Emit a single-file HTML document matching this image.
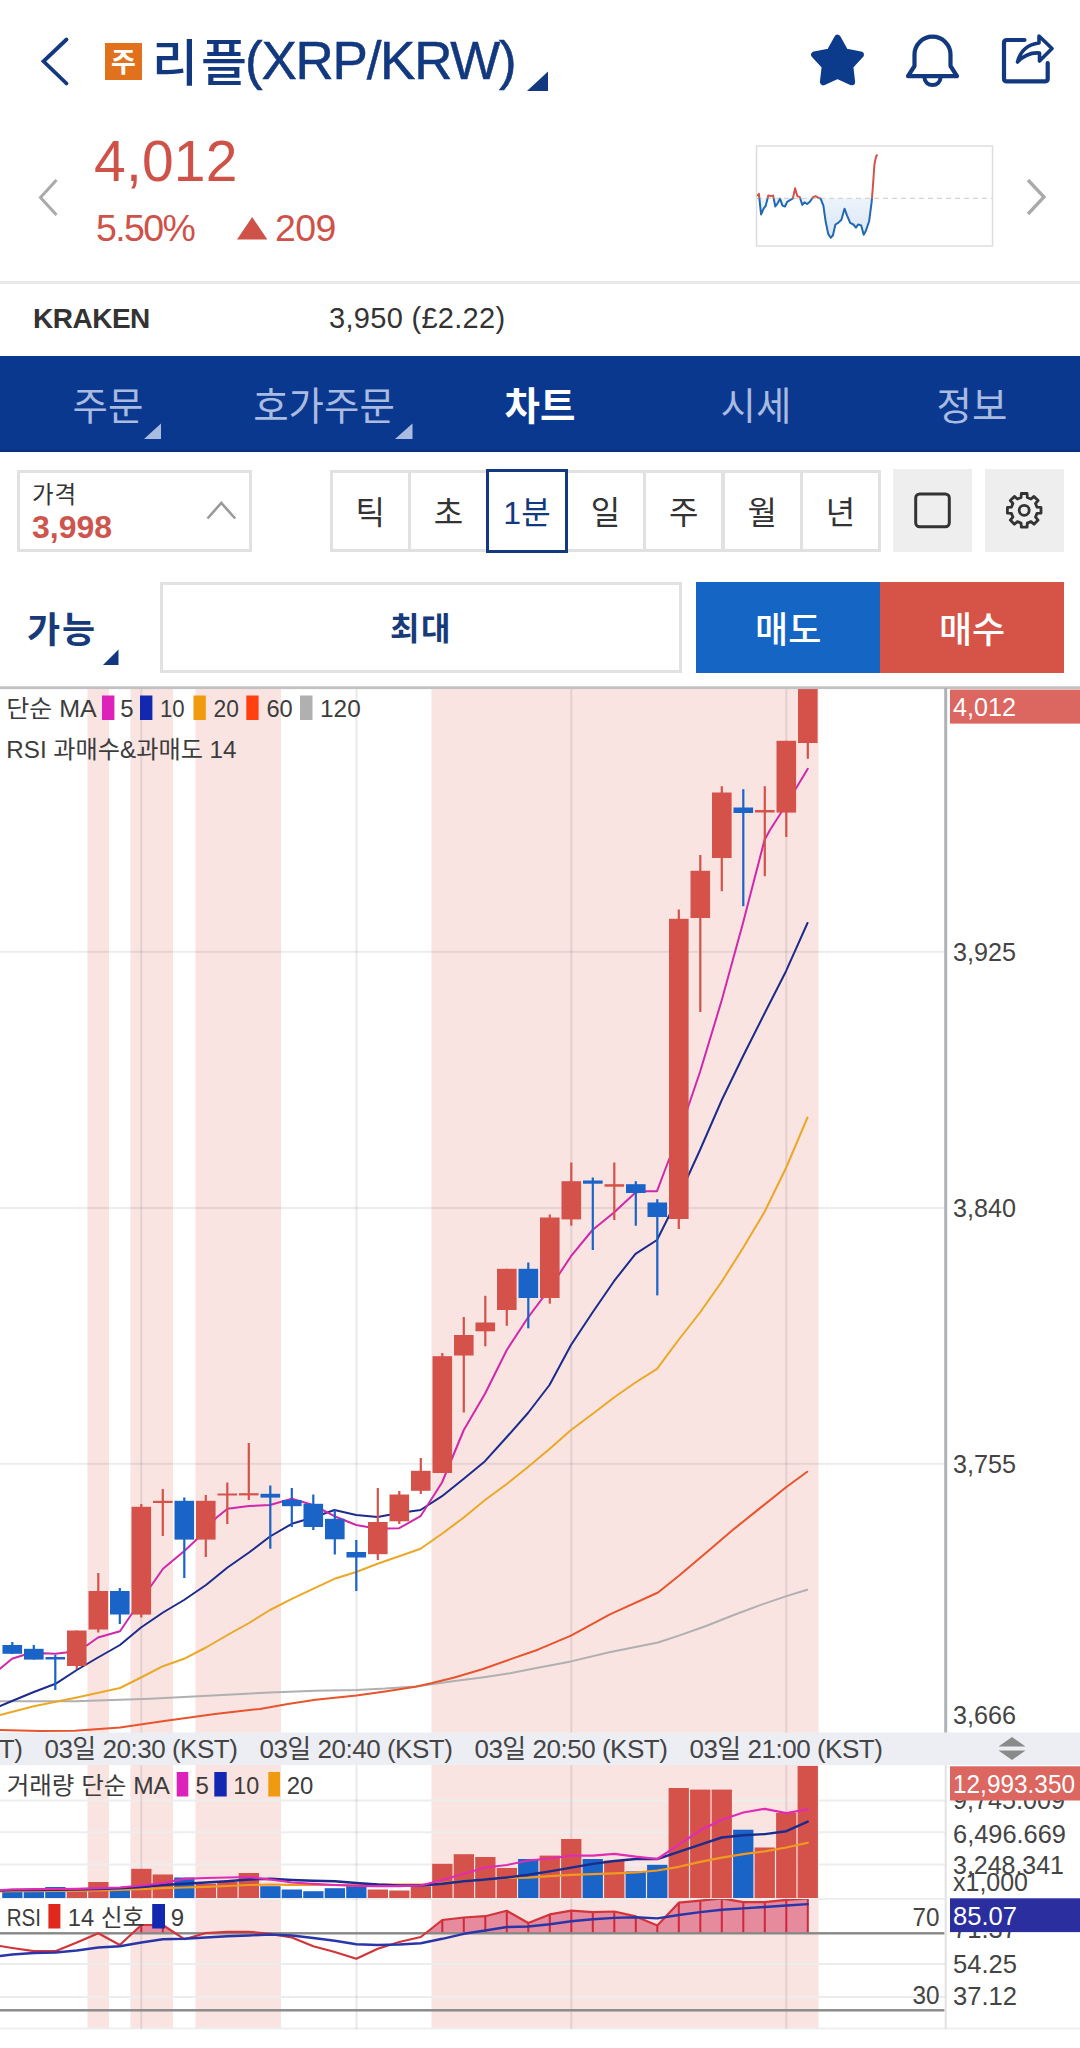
<!DOCTYPE html>
<html lang="ko">
<head>
<meta charset="utf-8">
<title>리플(XRP/KRW)</title>
<style>
html,body{margin:0;padding:0;background:#fff;}
body{width:1080px;height:2048px;position:relative;overflow:hidden;font-family:"Liberation Sans","Noto Sans CJK KR",sans-serif;color:#333;}
.abs{position:absolute;white-space:nowrap;line-height:1;}
.navy{color:#12387f;}
.red{color:#cf5249;}
.tab{position:absolute;top:355px;height:98px;width:216px;text-align:center;line-height:98px;font-size:38.5px;color:#a9bbe0;white-space:nowrap;}
.tab span{display:inline-block;line-height:1;position:relative;top:2.5px}
.per{position:absolute;top:469.5px;height:76.5px;width:75.4px;border:3px solid #e1e1e1;box-sizing:content-box;text-align:center;line-height:80px;font-size:32px;color:#333;background:#fff;}
</style>
</head>
<body>

<!-- header -->
<svg class="abs" style="left:0;top:0" width="1080" height="120" viewBox="0 0 1080 120">
  <polyline points="66.5,39.5 43.5,61.3 66.5,83.5" fill="none" stroke="#12387f" stroke-width="3.8" stroke-linecap="round" stroke-linejoin="miter"/>
  <path d="M548 71.5 L548 91 L527 91 Z" fill="#12387f"/>
  <path d="M837.5 38.1 L845.1 51.8 L860.5 54.8 L849.9 66.3 L851.7 81.9 L837.5 75.3 L823.3 81.9 L825.1 66.3 L814.5 54.8 L829.9 51.8 Z" fill="#0d3b8c" stroke="#0d3b8c" stroke-width="6.8" stroke-linejoin="round"/>
  <path d="M914.5 66 V54.7 a18 18 0 0 1 36 0 V66 L957 76.2 H908 Z" fill="none" stroke="#12387f" stroke-width="4.2" stroke-linejoin="round"/>
  <path d="M924.5 77.8 a8 7.2 0 0 0 16 0" fill="none" stroke="#12387f" stroke-width="4"/>
  <path d="M1024.5 40 H1007 Q1004 40 1004 43 V78.4 Q1004 81.4 1007 81.4 H1044.7 Q1047.7 81.4 1047.7 78.4 V63" fill="none" stroke="#12387f" stroke-width="4.2" stroke-linecap="round"/>
  <path d="M1017.5 62 Q1022 45 1039 43 L1039 36 L1052 48.5 L1039.5 61 L1039.5 53 Q1027 52 1017.5 62 Z" fill="none" stroke="#12387f" stroke-width="3.6" stroke-linejoin="round"/>
</svg>
<div class="abs" style="left:105px;top:43px;width:37px;height:37px;background:#e2711d;color:#fff;font-size:27px;font-weight:700;text-align:center;line-height:40px;">주</div>
<div class="abs navy" id="title" style="left:152px;top:36px;font-size:50px;line-height:56px;letter-spacing:3px;font-weight:500;">리플</div>
<div class="abs navy" id="title2" style="left:245px;top:31.5px;font-size:53px;line-height:58px;letter-spacing:-1.25px;-webkit-text-stroke:0.5px #12387f;">(XRP/KRW)</div>

<!-- price -->
<svg class="abs" style="left:0;top:120px" width="1080" height="170" viewBox="0 120 1080 170">
  <polyline points="56.5,180 40.5,197.5 56.5,215" fill="none" stroke="#aaaaaa" stroke-width="3"/>
  <polyline points="1028,180 1044,197 1028,214" fill="none" stroke="#aaaaaa" stroke-width="3.3"/>
  <path d="M237 239.5 L252.2 217 L267.4 239.5 Z" fill="#cf5249"/>
</svg>
<div class="abs red" id="price" style="left:94px;top:133px;font-size:57px;line-height:57px;letter-spacing:0.2px;">4,012</div>
<div class="abs red" id="pct" style="left:96px;top:209px;font-size:37.5px;line-height:38px;letter-spacing:-1.6px;">5.50%</div>
<div class="abs red" id="chg" style="left:275px;top:209px;font-size:37.5px;line-height:38px;letter-spacing:-0.6px;">209</div>
<svg width="1080" height="290" viewBox="0 0 1080 290" style="position:absolute;left:0;top:0">
<defs><clipPath id="ma"><rect x="750" y="140" width="250" height="58.3"/></clipPath><clipPath id="mb"><rect x="750" y="198.3" width="250" height="60"/></clipPath>
<linearGradient id="mg" x1="0" y1="0" x2="0" y2="1"><stop offset="0" stop-color="#e8f0fa" stop-opacity="0.1"/><stop offset="1" stop-color="#d6e5f5"/></linearGradient></defs>
<rect x="756.5" y="146" width="236" height="100" fill="#fff" stroke="#dcdcdc" stroke-width="1.4"/>
<path d="M757.3,198.3 L757.3,196.1 L758.9,193.9 L761.1,214.4 L763.6,208.7 L765.8,205.6 L768.3,195.5 L770.9,196.1 L773.1,195.5 L775.3,206.5 L777.8,203.0 L780.0,198.6 L782.5,205.6 L785.0,206.5 L787.2,201.8 L790.4,199.9 L792.9,198.3 L795.1,188.2 L797.3,196.1 L799.8,197.1 L802.3,204.9 L804.5,202.4 L807.1,204.0 L809.9,201.8 L813.0,197.1 L815.6,196.1 L818.1,197.7 L820.6,198.6 L823.4,205.6 L825.6,221.3 L828.2,233.9 L830.7,237.7 L832.9,235.5 L835.4,224.5 L838.2,222.9 L841.4,219.7 L844.5,208.7 L847.1,215.6 L850.2,222.9 L853.4,224.5 L855.9,227.6 L858.1,224.5 L861.2,225.4 L863.7,234.8 L865.9,230.8 L869.1,221.3 L871.6,202.4 L872.9,186.7 L874.4,164.6 L876.0,156.8 L877.3,154.6 L877.3,198.3 Z" fill="url(#mg)" clip-path="url(#mb)"/>
<line x1="757" y1="198.3" x2="992" y2="198.3" stroke="#d4d4d4" stroke-width="1.3" stroke-dasharray="5 4"/>
<polyline points="757.3,196.1 758.9,193.9 761.1,214.4 763.6,208.7 765.8,205.6 768.3,195.5 770.9,196.1 773.1,195.5 775.3,206.5 777.8,203.0 780.0,198.6 782.5,205.6 785.0,206.5 787.2,201.8 790.4,199.9 792.9,198.3 795.1,188.2 797.3,196.1 799.8,197.1 802.3,204.9 804.5,202.4 807.1,204.0 809.9,201.8 813.0,197.1 815.6,196.1 818.1,197.7 820.6,198.6 823.4,205.6 825.6,221.3 828.2,233.9 830.7,237.7 832.9,235.5 835.4,224.5 838.2,222.9 841.4,219.7 844.5,208.7 847.1,215.6 850.2,222.9 853.4,224.5 855.9,227.6 858.1,224.5 861.2,225.4 863.7,234.8 865.9,230.8 869.1,221.3 871.6,202.4 872.9,186.7 874.4,164.6 876.0,156.8 877.3,154.6" fill="none" stroke="#d5524a" stroke-width="2" stroke-linejoin="round" clip-path="url(#ma)"/>
<polyline points="757.3,196.1 758.9,193.9 761.1,214.4 763.6,208.7 765.8,205.6 768.3,195.5 770.9,196.1 773.1,195.5 775.3,206.5 777.8,203.0 780.0,198.6 782.5,205.6 785.0,206.5 787.2,201.8 790.4,199.9 792.9,198.3 795.1,188.2 797.3,196.1 799.8,197.1 802.3,204.9 804.5,202.4 807.1,204.0 809.9,201.8 813.0,197.1 815.6,196.1 818.1,197.7 820.6,198.6 823.4,205.6 825.6,221.3 828.2,233.9 830.7,237.7 832.9,235.5 835.4,224.5 838.2,222.9 841.4,219.7 844.5,208.7 847.1,215.6 850.2,222.9 853.4,224.5 855.9,227.6 858.1,224.5 861.2,225.4 863.7,234.8 865.9,230.8 869.1,221.3 871.6,202.4 872.9,186.7 874.4,164.6 876.0,156.8 877.3,154.6" fill="none" stroke="#2068b0" stroke-width="2" stroke-linejoin="round" clip-path="url(#mb)"/>
</svg>

<div class="abs" style="left:0;top:281px;width:1080px;height:3px;background:#e9e9e9;"></div>

<!-- exchange row -->
<div class="abs" id="krk" style="left:33px;top:304px;font-size:28px;font-weight:700;line-height:30px;letter-spacing:-0.5px;color:#333;">KRAKEN</div>
<div class="abs" id="kpr" style="left:329px;top:303px;font-size:29px;line-height:31px;letter-spacing:0.3px;color:#333;">3,950 (£2.22)</div>

<!-- nav -->
<div class="abs" style="left:0;top:355.5px;width:1080px;height:96.3px;background:#0b388f;"></div><div class="abs" style="left:0;top:449.8px;width:1080px;height:2px;background:#0a2f7c;"></div>
<div class="tab" style="left:0"><span>주문</span></div>
<div class="tab" style="left:216px"><span>호가주문</span></div>
<div class="tab" style="left:432px;color:#fff;font-weight:700"><span>차트</span></div>
<div class="tab" style="left:648px"><span>시세</span></div>
<div class="tab" style="left:864px"><span>정보</span></div>
<svg class="abs" style="left:0;top:355px" width="1080" height="98" viewBox="0 355 1080 98">
  <path d="M161 423.5 V439 H144 Z M412.5 423.5 V439 H395 Z" fill="#a9bbe0"/>
</svg>

<!-- controls -->
<div class="abs" style="left:16.5px;top:469.5px;width:229px;height:76.5px;border:3px solid #e1e1e1;background:#fff;"></div>
<div class="abs" style="left:32px;top:482.5px;font-size:23.5px;line-height:24px;letter-spacing:1px;color:#333;">가격</div>
<div class="abs" id="p3998" style="left:32px;top:511px;font-size:32px;line-height:32px;font-weight:700;color:#cd554e;">3,998</div>
<svg class="abs" style="left:200px;top:495px" width="44" height="30" viewBox="200 495 44 30"><polyline points="207.5,518.5 221.3,503 235.2,518.5" fill="none" stroke="#999" stroke-width="2.6"/></svg>

<div class="per" style="left:329.5px">틱</div>
<div class="per" style="left:407.9px">초</div>
<div class="per" style="left:564.7px">일</div>
<div class="per" style="left:643.1px">주</div>
<div class="per" style="left:721.5px">월</div>
<div class="per" style="left:799.9px">년</div>
<div class="per" style="left:485.8px;border-color:#12387f;color:#12387f;width:76.4px;top:468.5px;height:78px;line-height:82px;">1분</div>

<div class="abs" style="left:893px;top:468.5px;width:78.7px;height:83.3px;background:#eeeeee;"></div>
<div class="abs" style="left:985.3px;top:468.5px;width:78.7px;height:83.3px;background:#eeeeee;"></div>
<svg class="abs" style="left:890px;top:465px" width="180" height="90" viewBox="890 465 180 90">
  <rect x="915.7" y="494" width="33.6" height="32.8" rx="4" ry="4" fill="none" stroke="#333" stroke-width="3"/>
  <path d="M1021.1 497.5 L1021.3 493.5 L1027.1 493.5 L1027.3 497.5 L1031.0 499.0 L1034.0 496.4 L1038.1 500.5 L1035.5 503.5 L1037.0 507.2 L1041.0 507.4 L1041.0 513.2 L1037.0 513.4 L1035.5 517.1 L1038.1 520.1 L1034.0 524.2 L1031.0 521.6 L1027.3 523.1 L1027.1 527.1 L1021.3 527.1 L1021.1 523.1 L1017.4 521.6 L1014.4 524.2 L1010.3 520.1 L1012.9 517.1 L1011.4 513.4 L1007.4 513.2 L1007.4 507.4 L1011.4 507.2 L1012.9 503.5 L1010.3 500.5 L1014.4 496.4 L1017.4 499.0 Z" fill="none" stroke="#333" stroke-width="2.8" stroke-linejoin="round"/>
  <circle cx="1024.2" cy="510.3" r="5" fill="none" stroke="#333" stroke-width="2.8"/>
</svg>

<!-- order row -->
<div class="abs navy" style="left:27px;top:610.5px;font-size:36px;line-height:40px;font-weight:700;letter-spacing:2px;color:#173b7a;">가능</div>
<svg class="abs" style="left:100px;top:645px" width="24" height="24" viewBox="100 645 24 24"><path d="M118.5 649.5 V665 H103 Z" fill="#12387f"/></svg>
<div class="abs" style="left:160px;top:582px;width:516px;height:85px;border:3px solid #e1e1e1;background:#fff;text-align:center;line-height:89px;font-size:32px;font-weight:700;letter-spacing:1.5px;color:#173b7a;">최대</div>
<div class="abs" style="left:695.8px;top:581.5px;width:184.7px;height:91.3px;background:#1565c5;color:#fff;text-align:center;line-height:97px;font-size:36px;font-weight:500;">매도</div>
<div class="abs" style="left:880.4px;top:581.5px;width:183.4px;height:91.3px;background:#d55347;color:#fff;text-align:center;line-height:97px;font-size:36px;font-weight:500;">매수</div>

<!-- chart -->
<svg width="1080" height="1368" viewBox="0 680 1080 1368" style="position:absolute;left:0;top:680px" font-family="'Liberation Sans', 'Noto Sans CJK KR', sans-serif">
<defs><clipPath id="cm"><rect x="0" y="689" width="944.5" height="1043"/></clipPath><clipPath id="cv"><rect x="0" y="1765" width="944.5" height="134"/></clipPath><clipPath id="cr"><rect x="0" y="1899" width="944.5" height="130"/></clipPath><clipPath id="c70"><rect x="0" y="1890" width="944.5" height="43.3"/></clipPath></defs>
<rect x="87.5" y="689" width="21.5" height="1340" fill="#f9e4e2"/>
<rect x="130.5" y="689" width="42.5" height="1340" fill="#f9e4e2"/>
<rect x="195.5" y="689" width="85.5" height="1340" fill="#f9e4e2"/>
<rect x="431.5" y="689" width="387.0" height="1340" fill="#f9e4e2"/>
<rect x="0" y="950.8" width="945" height="2" fill="#000" fill-opacity="0.075"/>
<rect x="0" y="1207.0" width="945" height="2" fill="#000" fill-opacity="0.075"/>
<rect x="0" y="1462.8" width="945" height="2" fill="#000" fill-opacity="0.075"/>
<rect x="0" y="1799.5" width="945" height="2" fill="#ededed"/>
<rect x="0" y="1831.3" width="945" height="2" fill="#ededed"/>
<rect x="0" y="1863.5" width="945" height="2" fill="#ededed"/>
<rect x="0" y="1897.8" width="945" height="2" fill="#ededed"/>
<rect x="0" y="1963.0" width="945" height="2" fill="#ededed"/>
<rect x="0" y="1996.0" width="945" height="2" fill="#ededed"/>
<rect x="0" y="2027.6" width="1080" height="2" fill="#ededed"/>
<rect x="140.3" y="689" width="2" height="1340" fill="#000" fill-opacity="0.085"/>
<rect x="355.5" y="689" width="2" height="1340" fill="#000" fill-opacity="0.085"/>
<rect x="570.3" y="689" width="2" height="1340" fill="#000" fill-opacity="0.085"/>
<rect x="785.3" y="689" width="2" height="1340" fill="#000" fill-opacity="0.085"/>
<g clip-path="url(#cm)">
<polyline points="0.0,1701.2 75.0,1701.2 150.0,1698.8 270.0,1692.5 315.6,1690.8 356.4,1690.0 385.0,1688.6 415.6,1686.4 454.4,1681.1 482.2,1677.5 510.0,1673.3 537.8,1667.8 571.0,1661.4 609.4,1652.2 658.0,1642.5 678.9,1635.6 706.7,1625.8 734.4,1614.7 762.2,1604.4 786.4,1596.1 807.2,1589.7" fill="none" stroke="#b0b0b0" stroke-width="2.0" stroke-linejoin="round" stroke-linecap="round" />
<polyline points="0.0,1730.0 40.0,1731.0 75.0,1730.8 120.0,1727.5 162.5,1721.2 215.0,1714.0 260.0,1708.9 287.8,1703.9 315.6,1699.7 356.4,1695.6 385.0,1691.4 415.6,1686.7 432.2,1683.0 454.4,1677.5 482.2,1669.2 510.0,1659.4 537.8,1649.7 571.0,1635.6 609.4,1614.7 658.0,1592.5 678.9,1575.8 706.7,1552.2 734.4,1528.6 762.2,1506.4 786.4,1487.0 807.2,1471.7" fill="none" stroke="#e8542c" stroke-width="2.0" stroke-linejoin="round" stroke-linecap="round" />
<polyline points="0.0,1715.0 33.8,1706.2 76.8,1697.5 120.0,1688.0 141.0,1677.5 163.0,1666.2 184.0,1658.8 206.0,1647.5 227.5,1635.0 249.0,1623.0 270.0,1610.0 291.8,1598.8 313.0,1588.8 334.5,1578.8 356.2,1572.0 377.5,1563.8 399.2,1556.2 420.5,1548.8 442.0,1533.8 463.8,1517.5 485.0,1500.0 506.8,1484.0 528.0,1467.0 549.5,1449.0 571.0,1430.0 592.5,1414.0 614.0,1397.5 635.5,1382.5 657.0,1368.8 678.5,1340.0 700.0,1312.5 721.5,1282.0 743.0,1248.0 764.5,1212.0 786.0,1168.0 807.5,1117.5" fill="none" stroke="#eba826" stroke-width="2.0" stroke-linejoin="round" stroke-linecap="round" />
<polyline points="0.0,1706.2 12.0,1701.0 33.8,1692.0 55.5,1683.8 76.8,1670.0 98.0,1657.5 120.0,1645.0 141.0,1627.5 163.0,1612.5 184.0,1600.0 206.0,1585.0 227.5,1567.5 249.0,1552.5 270.0,1536.5 291.8,1523.8 313.0,1517.5 334.5,1510.0 356.2,1515.0 377.5,1517.0 399.2,1513.0 420.5,1510.0 442.0,1496.2 463.8,1478.8 485.0,1461.2 506.8,1437.0 528.0,1413.0 549.5,1385.0 571.0,1345.0 592.5,1312.5 614.0,1281.2 635.5,1253.8 657.0,1240.0 678.5,1197.0 700.0,1150.0 721.8,1100.0 743.0,1056.2 765.0,1012.5 786.0,971.2 807.5,923.0" fill="none" stroke="#1c2b8c" stroke-width="2.0" stroke-linejoin="round" stroke-linecap="round" />
<polyline points="0.0,1668.8 12.0,1658.8 23.8,1655.0 33.8,1654.0 43.8,1653.2 55.5,1653.8 66.0,1652.5 76.8,1649.0 87.5,1645.0 98.0,1637.5 120.0,1631.2 131.0,1615.0 141.0,1600.0 151.0,1586.0 163.0,1568.8 184.0,1551.2 195.0,1541.0 206.0,1530.0 216.0,1518.0 227.5,1508.8 249.0,1506.0 270.0,1505.0 291.8,1498.8 313.0,1505.0 334.5,1516.2 356.2,1525.0 377.5,1528.8 399.2,1528.2 420.5,1516.2 442.0,1482.5 463.8,1430.0 485.0,1393.8 506.8,1350.0 528.0,1317.5 549.5,1288.8 571.0,1256.2 592.5,1230.0 614.0,1212.5 635.5,1192.5 646.0,1191.2 657.0,1191.2 665.0,1170.0 678.5,1135.0 700.0,1072.0 721.8,1000.0 743.0,923.0 764.5,840.0 770.0,830.0 786.0,805.0 807.8,768.8" fill="none" stroke="#d028aa" stroke-width="2.0" stroke-linejoin="round" stroke-linecap="round" />
<rect x="11.2" y="1642.0" width="2.2" height="12.0" fill="#1a63c7"/>
<rect x="2.5" y="1645.0" width="19.6" height="8.8" fill="#1a63c7"/>
<rect x="32.7" y="1645.0" width="2.2" height="14.5" fill="#1a63c7"/>
<rect x="24.0" y="1648.8" width="19.6" height="10.8" fill="#1a63c7"/>
<rect x="54.2" y="1655.0" width="2.2" height="35.0" fill="#1a63c7"/>
<rect x="45.5" y="1657.0" width="19.6" height="2.5" fill="#1a63c7"/>
<rect x="75.7" y="1630.5" width="2.2" height="38.5" fill="#d5524a"/>
<rect x="67.0" y="1630.5" width="19.6" height="35.5" fill="#d5524a"/>
<rect x="97.2" y="1573.0" width="2.2" height="59.5" fill="#d5524a"/>
<rect x="88.5" y="1591.0" width="19.6" height="38.5" fill="#d5524a"/>
<rect x="118.7" y="1588.0" width="2.2" height="36.0" fill="#1a63c7"/>
<rect x="110.0" y="1591.0" width="19.6" height="23.5" fill="#1a63c7"/>
<rect x="140.2" y="1504.0" width="2.2" height="113.5" fill="#d5524a"/>
<rect x="131.5" y="1506.8" width="19.6" height="107.8" fill="#d5524a"/>
<rect x="161.7" y="1489.0" width="2.2" height="47.0" fill="#d5524a"/>
<rect x="153.0" y="1500.8" width="19.6" height="2.2" fill="#d5524a"/>
<rect x="183.2" y="1497.5" width="2.2" height="80.5" fill="#1a63c7"/>
<rect x="174.5" y="1500.8" width="19.6" height="38.8" fill="#1a63c7"/>
<rect x="204.7" y="1495.0" width="2.2" height="62.0" fill="#d5524a"/>
<rect x="196.0" y="1500.8" width="19.6" height="38.8" fill="#d5524a"/>
<rect x="226.2" y="1482.5" width="2.2" height="41.5" fill="#d5524a"/>
<rect x="217.5" y="1493.5" width="19.6" height="2.0" fill="#d5524a"/>
<rect x="247.7" y="1443.0" width="2.2" height="57.0" fill="#d5524a"/>
<rect x="239.0" y="1493.2" width="19.6" height="2.2" fill="#d5524a"/>
<rect x="269.2" y="1485.5" width="2.2" height="63.2" fill="#1a63c7"/>
<rect x="260.5" y="1493.8" width="19.6" height="3.8" fill="#1a63c7"/>
<rect x="290.7" y="1488.0" width="2.2" height="39.0" fill="#1a63c7"/>
<rect x="282.0" y="1500.0" width="19.6" height="6.2" fill="#1a63c7"/>
<rect x="312.2" y="1494.5" width="2.2" height="35.5" fill="#1a63c7"/>
<rect x="303.5" y="1503.8" width="19.6" height="23.2" fill="#1a63c7"/>
<rect x="333.7" y="1510.0" width="2.2" height="44.5" fill="#1a63c7"/>
<rect x="325.0" y="1518.8" width="19.6" height="20.5" fill="#1a63c7"/>
<rect x="355.2" y="1540.0" width="2.2" height="51.0" fill="#1a63c7"/>
<rect x="346.5" y="1552.0" width="19.6" height="5.5" fill="#1a63c7"/>
<rect x="376.7" y="1488.0" width="2.2" height="72.0" fill="#d5524a"/>
<rect x="368.0" y="1522.0" width="19.6" height="32.2" fill="#d5524a"/>
<rect x="398.2" y="1491.0" width="2.2" height="33.0" fill="#d5524a"/>
<rect x="389.5" y="1494.5" width="19.6" height="26.8" fill="#d5524a"/>
<rect x="419.7" y="1458.0" width="2.2" height="36.0" fill="#d5524a"/>
<rect x="411.0" y="1470.8" width="19.6" height="20.0" fill="#d5524a"/>
<rect x="441.2" y="1353.0" width="2.2" height="120.0" fill="#d5524a"/>
<rect x="432.5" y="1356.2" width="19.6" height="116.8" fill="#d5524a"/>
<rect x="462.7" y="1317.0" width="2.2" height="95.5" fill="#d5524a"/>
<rect x="454.0" y="1335.0" width="19.6" height="20.5" fill="#d5524a"/>
<rect x="484.2" y="1295.8" width="2.2" height="50.5" fill="#d5524a"/>
<rect x="475.5" y="1322.5" width="19.6" height="8.8" fill="#d5524a"/>
<rect x="505.7" y="1268.8" width="2.2" height="57.0" fill="#d5524a"/>
<rect x="497.0" y="1268.8" width="19.6" height="41.2" fill="#d5524a"/>
<rect x="527.2" y="1262.5" width="2.2" height="65.8" fill="#1a63c7"/>
<rect x="518.5" y="1268.8" width="19.6" height="29.2" fill="#1a63c7"/>
<rect x="548.7" y="1214.5" width="2.2" height="89.2" fill="#d5524a"/>
<rect x="540.0" y="1217.5" width="19.6" height="80.5" fill="#d5524a"/>
<rect x="570.2" y="1162.5" width="2.2" height="63.2" fill="#d5524a"/>
<rect x="561.5" y="1181.2" width="19.6" height="38.2" fill="#d5524a"/>
<rect x="591.7" y="1177.5" width="2.2" height="72.5" fill="#1a63c7"/>
<rect x="583.0" y="1180.5" width="19.6" height="3.2" fill="#1a63c7"/>
<rect x="613.2" y="1162.5" width="2.2" height="57.5" fill="#d5524a"/>
<rect x="604.5" y="1184.2" width="19.6" height="2.5" fill="#d5524a"/>
<rect x="634.7" y="1181.2" width="2.2" height="44.5" fill="#1a63c7"/>
<rect x="626.0" y="1184.2" width="19.6" height="8.8" fill="#1a63c7"/>
<rect x="656.2" y="1199.2" width="2.2" height="96.2" fill="#1a63c7"/>
<rect x="647.5" y="1202.5" width="19.6" height="14.5" fill="#1a63c7"/>
<rect x="677.7" y="909.5" width="2.2" height="319.5" fill="#d5524a"/>
<rect x="669.0" y="918.8" width="19.6" height="300.2" fill="#d5524a"/>
<rect x="699.2" y="855.0" width="2.2" height="157.0" fill="#d5524a"/>
<rect x="690.5" y="870.8" width="19.6" height="47.2" fill="#d5524a"/>
<rect x="720.7" y="786.2" width="2.2" height="105.0" fill="#d5524a"/>
<rect x="712.0" y="792.5" width="19.6" height="65.5" fill="#d5524a"/>
<rect x="742.2" y="789.2" width="2.2" height="117.0" fill="#1a63c7"/>
<rect x="733.5" y="807.5" width="19.6" height="5.5" fill="#1a63c7"/>
<rect x="763.7" y="786.2" width="2.2" height="90.0" fill="#d5524a"/>
<rect x="755.0" y="810.0" width="19.6" height="2.5" fill="#d5524a"/>
<rect x="785.2" y="740.8" width="2.2" height="96.2" fill="#d5524a"/>
<rect x="776.5" y="740.8" width="19.6" height="71.8" fill="#d5524a"/>
<rect x="806.7" y="689.0" width="2.2" height="69.8" fill="#d5524a"/>
<rect x="798.0" y="689.0" width="19.6" height="54.0" fill="#d5524a"/>
</g>
<g clip-path="url(#cv)">
<rect x="2.2" y="1890.0" width="20.3" height="8.0" fill="#1a63c7"/>
<rect x="23.7" y="1890.0" width="20.3" height="8.0" fill="#1a63c7"/>
<rect x="45.2" y="1887.0" width="20.3" height="11.0" fill="#1a63c7"/>
<rect x="66.7" y="1888.8" width="20.3" height="9.2" fill="#d5524a"/>
<rect x="88.2" y="1882.0" width="20.3" height="16.0" fill="#d5524a"/>
<rect x="109.7" y="1890.0" width="20.3" height="8.0" fill="#1a63c7"/>
<rect x="131.2" y="1868.8" width="20.3" height="29.2" fill="#d5524a"/>
<rect x="152.7" y="1874.5" width="20.3" height="23.5" fill="#d5524a"/>
<rect x="174.2" y="1877.5" width="20.3" height="20.5" fill="#1a63c7"/>
<rect x="195.7" y="1883.8" width="20.3" height="14.2" fill="#d5524a"/>
<rect x="217.2" y="1882.0" width="20.3" height="16.0" fill="#d5524a"/>
<rect x="238.7" y="1873.0" width="20.3" height="25.0" fill="#d5524a"/>
<rect x="260.2" y="1886.2" width="20.3" height="11.8" fill="#1a63c7"/>
<rect x="281.7" y="1889.5" width="20.3" height="8.5" fill="#1a63c7"/>
<rect x="303.2" y="1891.2" width="20.3" height="6.8" fill="#1a63c7"/>
<rect x="324.7" y="1888.2" width="20.3" height="9.8" fill="#1a63c7"/>
<rect x="346.2" y="1886.2" width="20.3" height="11.8" fill="#1a63c7"/>
<rect x="367.7" y="1889.5" width="20.3" height="8.5" fill="#d5524a"/>
<rect x="389.2" y="1890.5" width="20.3" height="7.5" fill="#d5524a"/>
<rect x="410.7" y="1886.2" width="20.3" height="11.8" fill="#d5524a"/>
<rect x="432.2" y="1863.8" width="20.3" height="34.2" fill="#d5524a"/>
<rect x="453.7" y="1854.2" width="20.3" height="43.8" fill="#d5524a"/>
<rect x="475.2" y="1857.0" width="20.3" height="41.0" fill="#d5524a"/>
<rect x="496.7" y="1868.0" width="20.3" height="30.0" fill="#d5524a"/>
<rect x="518.1" y="1859.0" width="20.3" height="39.0" fill="#1a63c7"/>
<rect x="539.6" y="1855.6" width="20.3" height="42.4" fill="#d5524a"/>
<rect x="561.1" y="1839.0" width="20.3" height="59.0" fill="#d5524a"/>
<rect x="582.6" y="1859.0" width="20.3" height="39.0" fill="#1a63c7"/>
<rect x="604.1" y="1860.5" width="20.3" height="37.5" fill="#d5524a"/>
<rect x="625.6" y="1871.4" width="20.3" height="26.6" fill="#1a63c7"/>
<rect x="647.1" y="1864.8" width="20.3" height="33.2" fill="#1a63c7"/>
<rect x="668.6" y="1788.0" width="20.3" height="110.0" fill="#d5524a"/>
<rect x="690.1" y="1789.6" width="20.3" height="108.4" fill="#d5524a"/>
<rect x="711.6" y="1789.6" width="20.3" height="108.4" fill="#d5524a"/>
<rect x="733.1" y="1829.7" width="20.3" height="68.3" fill="#1a63c7"/>
<rect x="754.6" y="1847.5" width="20.3" height="50.5" fill="#d5524a"/>
<rect x="776.1" y="1813.0" width="20.3" height="85.0" fill="#d5524a"/>
<rect x="797.6" y="1766.0" width="20.3" height="132.0" fill="#d5524a"/>
<polyline points="0.0,1891.5 12.3,1891.2 33.8,1891.2 55.3,1891.0 76.8,1890.8 98.3,1890.5 119.8,1890.0 141.3,1889.2 162.8,1888.2 184.3,1887.5 205.8,1886.8 227.3,1886.0 248.8,1885.0 270.3,1884.5 291.8,1884.8 313.3,1885.0 334.8,1885.0 356.3,1884.8 377.8,1884.5 399.3,1884.5 420.8,1884.5 442.3,1883.2 463.8,1881.2 485.3,1879.5 506.8,1878.0 528.3,1877.7 549.8,1876.2 571.3,1874.8 592.8,1874.2 614.3,1873.4 635.8,1872.5 657.3,1870.5 678.8,1866.8 700.3,1861.9 721.8,1857.6 743.3,1854.1 764.8,1851.3 786.3,1847.5 807.8,1842.7" fill="none" stroke="#f09a20" stroke-width="2.2" stroke-linejoin="round" stroke-linecap="round" />
<polyline points="0.0,1890.5 12.3,1890.0 33.8,1890.0 55.3,1889.8 76.8,1889.5 98.3,1889.0 119.8,1888.2 141.3,1887.0 162.8,1885.0 184.3,1883.8 205.8,1882.5 227.3,1881.2 248.8,1879.5 270.3,1878.8 291.8,1880.0 313.3,1880.8 334.8,1881.2 356.3,1883.0 377.8,1884.5 399.3,1885.5 420.8,1885.5 442.3,1883.8 463.8,1881.2 485.3,1879.5 506.8,1877.5 528.3,1874.8 549.8,1871.4 571.3,1867.6 592.8,1863.9 614.3,1861.0 635.8,1859.0 657.3,1859.0 678.8,1851.8 700.3,1844.7 721.8,1837.5 743.3,1835.2 764.8,1834.1 786.3,1831.2 807.8,1821.7" fill="none" stroke="#1c2b8c" stroke-width="2.4" stroke-linejoin="round" stroke-linecap="round" />
<polyline points="0.0,1890.0 12.3,1889.5 33.8,1889.2 55.3,1889.0 76.8,1888.8 98.3,1888.2 119.8,1887.5 141.3,1885.5 162.8,1883.0 184.3,1878.8 205.8,1878.0 227.3,1877.5 248.8,1877.0 270.3,1879.5 291.8,1882.5 313.3,1883.8 334.8,1885.0 356.3,1885.8 377.8,1886.2 399.3,1886.2 420.8,1885.5 442.3,1880.0 463.8,1873.8 485.3,1867.5 506.8,1865.0 528.3,1860.5 549.8,1858.5 571.3,1855.6 592.8,1855.6 614.3,1853.9 635.8,1856.7 657.3,1859.0 678.8,1844.7 700.3,1830.3 721.8,1819.7 743.3,1812.5 764.8,1808.8 786.3,1813.1 807.8,1809.4" fill="none" stroke="#e02cb4" stroke-width="2.2" stroke-linejoin="round" stroke-linecap="round" />
</g>
<rect x="0" y="1899" width="194" height="33.5" fill="#fff"/>
<g clip-path="url(#cr)">
<g clip-path="url(#c70)"><path d="M0,1933.3 L0.0,1946.0 L12.3,1948.0 L33.8,1951.2 L55.3,1951.2 L76.8,1942.5 L98.3,1933.2 L119.8,1945.0 L141.3,1925.0 L162.8,1925.0 L184.3,1939.2 L205.8,1933.0 L227.3,1931.8 L248.8,1931.8 L270.3,1933.8 L291.8,1937.5 L313.3,1946.2 L334.8,1952.0 L356.3,1958.8 L377.8,1948.8 L399.3,1942.0 L420.8,1937.0 L442.3,1920.0 L463.8,1917.5 L485.3,1916.2 L506.8,1910.8 L528.3,1923.0 L549.8,1914.4 L571.3,1910.7 L592.8,1912.1 L614.3,1911.5 L635.8,1916.4 L657.3,1925.6 L678.8,1902.7 L700.3,1900.6 L721.8,1898.3 L743.3,1902.1 L764.8,1902.1 L786.3,1899.8 L807.8,1898.3 L807.8,1933.3 Z" fill="#e68a9e"/>
<rect x="140.3" y="1925.0" width="2" height="8.3" fill="#cc2a3a"/>
<rect x="161.8" y="1925.0" width="2" height="8.3" fill="#cc2a3a"/>
<rect x="226.3" y="1931.8" width="2" height="1.5" fill="#cc2a3a"/>
<rect x="247.8" y="1931.8" width="2" height="1.5" fill="#cc2a3a"/>
<rect x="441.3" y="1920.0" width="2" height="13.3" fill="#cc2a3a"/>
<rect x="462.8" y="1917.5" width="2" height="15.8" fill="#cc2a3a"/>
<rect x="484.3" y="1916.2" width="2" height="17.0" fill="#cc2a3a"/>
<rect x="505.8" y="1910.8" width="2" height="22.5" fill="#cc2a3a"/>
<rect x="527.3" y="1923.0" width="2" height="10.3" fill="#cc2a3a"/>
<rect x="548.8" y="1914.4" width="2" height="18.9" fill="#cc2a3a"/>
<rect x="570.3" y="1910.7" width="2" height="22.6" fill="#cc2a3a"/>
<rect x="591.8" y="1912.1" width="2" height="21.2" fill="#cc2a3a"/>
<rect x="613.3" y="1911.5" width="2" height="21.8" fill="#cc2a3a"/>
<rect x="634.8" y="1916.4" width="2" height="16.9" fill="#cc2a3a"/>
<rect x="656.3" y="1925.6" width="2" height="7.7" fill="#cc2a3a"/>
<rect x="677.8" y="1902.7" width="2" height="30.6" fill="#cc2a3a"/>
<rect x="699.3" y="1900.6" width="2" height="32.7" fill="#cc2a3a"/>
<rect x="720.8" y="1898.3" width="2" height="35.0" fill="#cc2a3a"/>
<rect x="742.3" y="1902.1" width="2" height="31.2" fill="#cc2a3a"/>
<rect x="763.8" y="1902.1" width="2" height="31.2" fill="#cc2a3a"/>
<rect x="785.3" y="1899.8" width="2" height="33.5" fill="#cc2a3a"/>
<rect x="806.8" y="1898.3" width="2" height="35.0" fill="#cc2a3a"/>
</g>
<rect x="0" y="1932.1" width="945" height="2.4" fill="#888"/>
<rect x="0" y="2009.1" width="945" height="2.4" fill="#888"/>
<polyline points="0.0,1946.0 12.3,1948.0 33.8,1951.2 55.3,1951.2 76.8,1942.5 98.3,1933.2 119.8,1945.0 141.3,1925.0 162.8,1925.0 184.3,1939.2 205.8,1933.0 227.3,1931.8 248.8,1931.8 270.3,1933.8 291.8,1937.5 313.3,1946.2 334.8,1952.0 356.3,1958.8 377.8,1948.8 399.3,1942.0 420.8,1937.0 442.3,1920.0 463.8,1917.5 485.3,1916.2 506.8,1910.8 528.3,1923.0 549.8,1914.4 571.3,1910.7 592.8,1912.1 614.3,1911.5 635.8,1916.4 657.3,1925.6 678.8,1902.7 700.3,1900.6 721.8,1898.3 743.3,1902.1 764.8,1902.1 786.3,1899.8 807.8,1898.3" fill="none" stroke="#d2343a" stroke-width="2.2" stroke-linejoin="round" stroke-linecap="round" />
<polyline points="0.0,1956.0 12.3,1954.5 33.8,1953.0 55.3,1952.5 76.8,1950.5 98.3,1947.5 119.8,1946.2 141.3,1942.5 162.8,1939.2 184.3,1938.8 205.8,1937.5 227.3,1936.2 248.8,1935.5 270.3,1934.5 291.8,1935.5 313.3,1938.0 334.8,1940.8 356.3,1944.2 377.8,1945.0 399.3,1944.5 420.8,1943.2 442.3,1938.8 463.8,1933.8 485.3,1930.5 506.8,1927.0 528.3,1926.5 549.8,1924.2 571.3,1921.3 592.8,1919.3 614.3,1917.9 635.8,1917.3 657.3,1918.4 678.8,1915.0 700.3,1912.1 721.8,1909.8 743.3,1908.4 764.8,1907.0 786.3,1905.5 807.8,1904.1" fill="none" stroke="#2a36a8" stroke-width="2.4" stroke-linejoin="round" stroke-linecap="round" />
</g>
<rect x="0" y="1732.5" width="1080" height="32.5" fill="#eceef4"/>
<text x="-170.6" y="1758" font-size="26" fill="#444" textLength="193.5" lengthAdjust="spacing">03일 20:20 (KST)</text>
<text x="44.4" y="1758" font-size="26" fill="#444" textLength="193.5" lengthAdjust="spacing">03일 20:30 (KST)</text>
<text x="259.4" y="1758" font-size="26" fill="#444" textLength="193.5" lengthAdjust="spacing">03일 20:40 (KST)</text>
<text x="474.4" y="1758" font-size="26" fill="#444" textLength="193.5" lengthAdjust="spacing">03일 20:50 (KST)</text>
<text x="689.4" y="1758" font-size="26" fill="#444" textLength="193.5" lengthAdjust="spacing">03일 21:00 (KST)</text>
<path d="M998.5 1746.5 L1012 1737 L1025.5 1746.5 Z M998.5 1750.5 L1025.5 1750.5 L1012 1760 Z" fill="#8a8a8a"/>
<rect x="0" y="686.3" width="1080" height="2.8" fill="#bfc1c3"/>
<rect x="944.2" y="688" width="3" height="1044.5" fill="#b0b3b6"/>
<rect x="944.7" y="1765" width="2" height="264" fill="#e2e2e2"/>
<text x="6.3" y="717.0" font-size="24" fill="#3c3c3c" textLength="90.5" lengthAdjust="spacingAndGlyphs">단순 MA</text><rect x="102.0" y="695.5" width="12.4" height="24.5" fill="#dd22bb"/><text x="120.2" y="717.0" font-size="24" fill="#3c3c3c">5</text><rect x="140.0" y="695.5" width="12.4" height="24.5" fill="#1228b0"/><text x="160.0" y="717.0" font-size="24" fill="#3c3c3c" textLength="24.7" lengthAdjust="spacingAndGlyphs">10</text><rect x="193.5" y="695.5" width="12.3" height="24.5" fill="#f09a10"/><text x="213.6" y="717.0" font-size="24" fill="#3c3c3c" textLength="25.4" lengthAdjust="spacingAndGlyphs">20</text><rect x="246.3" y="695.5" width="12.3" height="24.5" fill="#ff4010"/><text x="266.4" y="717.0" font-size="24" fill="#3c3c3c" textLength="26.3" lengthAdjust="spacingAndGlyphs">60</text><rect x="300.0" y="695.5" width="12.5" height="24.5" fill="#b0b0b0"/><text x="320.0" y="717.0" font-size="24" fill="#3c3c3c" textLength="40.7" lengthAdjust="spacingAndGlyphs">120</text>
<text x="6.3" y="758" font-size="24" fill="#3c3c3c" textLength="230.2" lengthAdjust="spacingAndGlyphs">RSI 과매수&amp;과매도 14</text>
<text x="6.7" y="1793.5" font-size="24" fill="#3c3c3c" textLength="163.3" lengthAdjust="spacingAndGlyphs">거래량 단순 MA</text><rect x="176.7" y="1772.0" width="11.6" height="24.5" fill="#dd22bb"/><text x="195.5" y="1793.5" font-size="24" fill="#3c3c3c">5</text><rect x="214.3" y="1772.0" width="12.4" height="24.5" fill="#1228b0"/><text x="233.3" y="1793.5" font-size="24" fill="#3c3c3c" textLength="26.0" lengthAdjust="spacingAndGlyphs">10</text><rect x="268.3" y="1772.0" width="11.7" height="24.5" fill="#f09a10"/><text x="286.7" y="1793.5" font-size="24" fill="#3c3c3c" textLength="26.6" lengthAdjust="spacingAndGlyphs">20</text>
<text x="6.7" y="1925.5" font-size="24" fill="#3c3c3c" textLength="34.3" lengthAdjust="spacingAndGlyphs">RSI</text><rect x="48.4" y="1904.0" width="12.0" height="24.5" fill="#e0281c"/><text x="67.8" y="1925.5" font-size="24" fill="#3c3c3c" textLength="76.6" lengthAdjust="spacingAndGlyphs">14 신호</text><rect x="152.2" y="1904.0" width="12.8" height="24.5" fill="#1228b0"/><text x="170.8" y="1925.5" font-size="24" fill="#3c3c3c">9</text>
<text x="953" y="960.9" font-size="25.5" fill="#444" textLength="63.0" lengthAdjust="spacingAndGlyphs">3,925</text>
<text x="953" y="1217.2" font-size="25.5" fill="#444" textLength="63.0" lengthAdjust="spacingAndGlyphs">3,840</text>
<text x="953" y="1473.0" font-size="25.5" fill="#444" textLength="63.0" lengthAdjust="spacingAndGlyphs">3,755</text>
<text x="953" y="1724.2" font-size="25.5" fill="#444" textLength="63.0" lengthAdjust="spacingAndGlyphs">3,666</text>
<text x="953" y="1808.7" font-size="25.5" fill="#444" textLength="112.0" lengthAdjust="spacingAndGlyphs">9,745.009</text>
<text x="953" y="1843.2" font-size="25.5" fill="#444" textLength="113.0" lengthAdjust="spacingAndGlyphs">6,496.669</text>
<text x="953" y="1874.2" font-size="25.5" fill="#444" textLength="111.0" lengthAdjust="spacingAndGlyphs">3,248.341</text>
<text x="953" y="1890.7" font-size="25.5" fill="#444" textLength="75.0" lengthAdjust="spacingAndGlyphs">x1,000</text>
<text x="953" y="1938.2" font-size="25.5" fill="#444" textLength="64.0" lengthAdjust="spacingAndGlyphs">71.37</text>
<text x="953" y="1972.8" font-size="25.5" fill="#444" textLength="64.0" lengthAdjust="spacingAndGlyphs">54.25</text>
<text x="953" y="2005.2" font-size="25.5" fill="#444" textLength="64.0" lengthAdjust="spacingAndGlyphs">37.12</text>
<rect x="950" y="689.6" width="130" height="34" fill="#dc6660"/>
<text x="953" y="715.9" font-size="25.5" fill="#fff" textLength="63.0" lengthAdjust="spacingAndGlyphs">4,012</text>
<rect x="950" y="1766.3" width="130" height="34.2" fill="#dc6660"/>
<text x="953" y="1792.7" font-size="25.5" fill="#fff" textLength="122.0" lengthAdjust="spacingAndGlyphs">12,993.350</text>
<rect x="950" y="1898.3" width="130" height="33.8" fill="#2b2e9e"/>
<text x="953" y="1925.2" font-size="25.5" fill="#fff" textLength="64.0" lengthAdjust="spacingAndGlyphs">85.07</text>
<text x="912.4" y="1926.2" font-size="25.5" fill="#444" textLength="27" lengthAdjust="spacingAndGlyphs">70</text>
<text x="912.4" y="2004.2" font-size="25.5" fill="#444" textLength="27" lengthAdjust="spacingAndGlyphs">30</text>
<rect x="0" y="2029.6" width="1080" height="20" fill="#fff"/>
</svg>

</body>
</html>
